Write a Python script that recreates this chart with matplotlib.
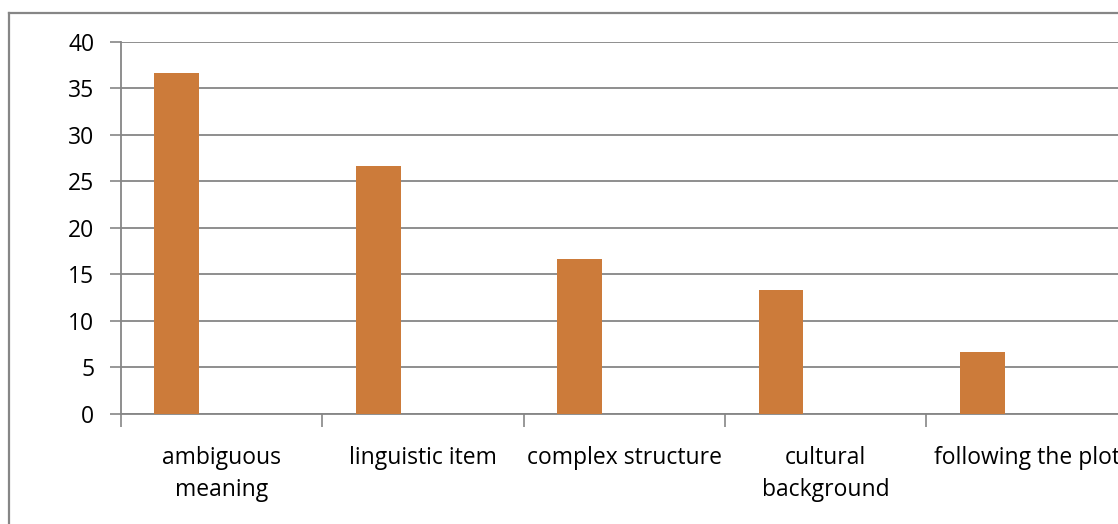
import numpy as np
import matplotlib.pyplot as plt
from matplotlib.lines import Line2D

# percentages per difficulty type
categories = ["ambiguous\nmeaning", "linguistic item", "complex structure",
              "cultural\nbackground", "following the plot"]
values = [36.67, 26.67, 16.67, 13.33, 6.67]
yticks = [0, 5, 10, 15, 20, 25, 30, 35, 40]

plt.rcParams['font.family'] = ['Open Sans', 'DejaVu Sans']
gray = '#868686'

fig = plt.figure(figsize=(11.18, 5.24), dpi=100)
ax = fig.add_axes([0.108, 0.2099, 0.9008, 0.7109])

x = np.arange(len(categories))
ax.bar(x + 0.278, values, width=0.222, color='#CC7B3A', zorder=3)

ax.set_xlim(0, 5)
ax.set_ylim(0, 40)
ax.set_yticks(yticks)
ax.set_xticks(np.arange(6))
ax.set_xticklabels([])
ax.set_xticks(x + 0.5, minor=True)
ax.set_xticklabels(categories, minor=True, fontsize=16.5, linespacing=1.45)

ax.tick_params(axis='y', length=8, width=1.2, color=gray, pad=11, labelsize=16.5)
ax.tick_params(axis='x', which='major', length=9, width=1.2, color=gray)
ax.tick_params(axis='x', which='minor', length=0, pad=23)

ax.grid(axis='y', color=gray, lw=1.3, zorder=0)
ax.set_axisbelow(True)
for s in ['top', 'right']:
    ax.spines[s].set_visible(False)
for s in ['left', 'bottom']:
    ax.spines[s].set_color(gray)
    ax.spines[s].set_linewidth(1.3)

# chart area frame (runs off the right and bottom edges)
x0 = 8.5 / 1118
y0 = 1 - 12.5 / 524
fig.add_artist(Line2D([x0, x0], [y0, -0.1], color=gray, lw=1.6, transform=fig.transFigure))
fig.add_artist(Line2D([x0, 1.1], [y0, y0], color=gray, lw=1.6, transform=fig.transFigure))

fig.savefig('out.png', dpi=100)
